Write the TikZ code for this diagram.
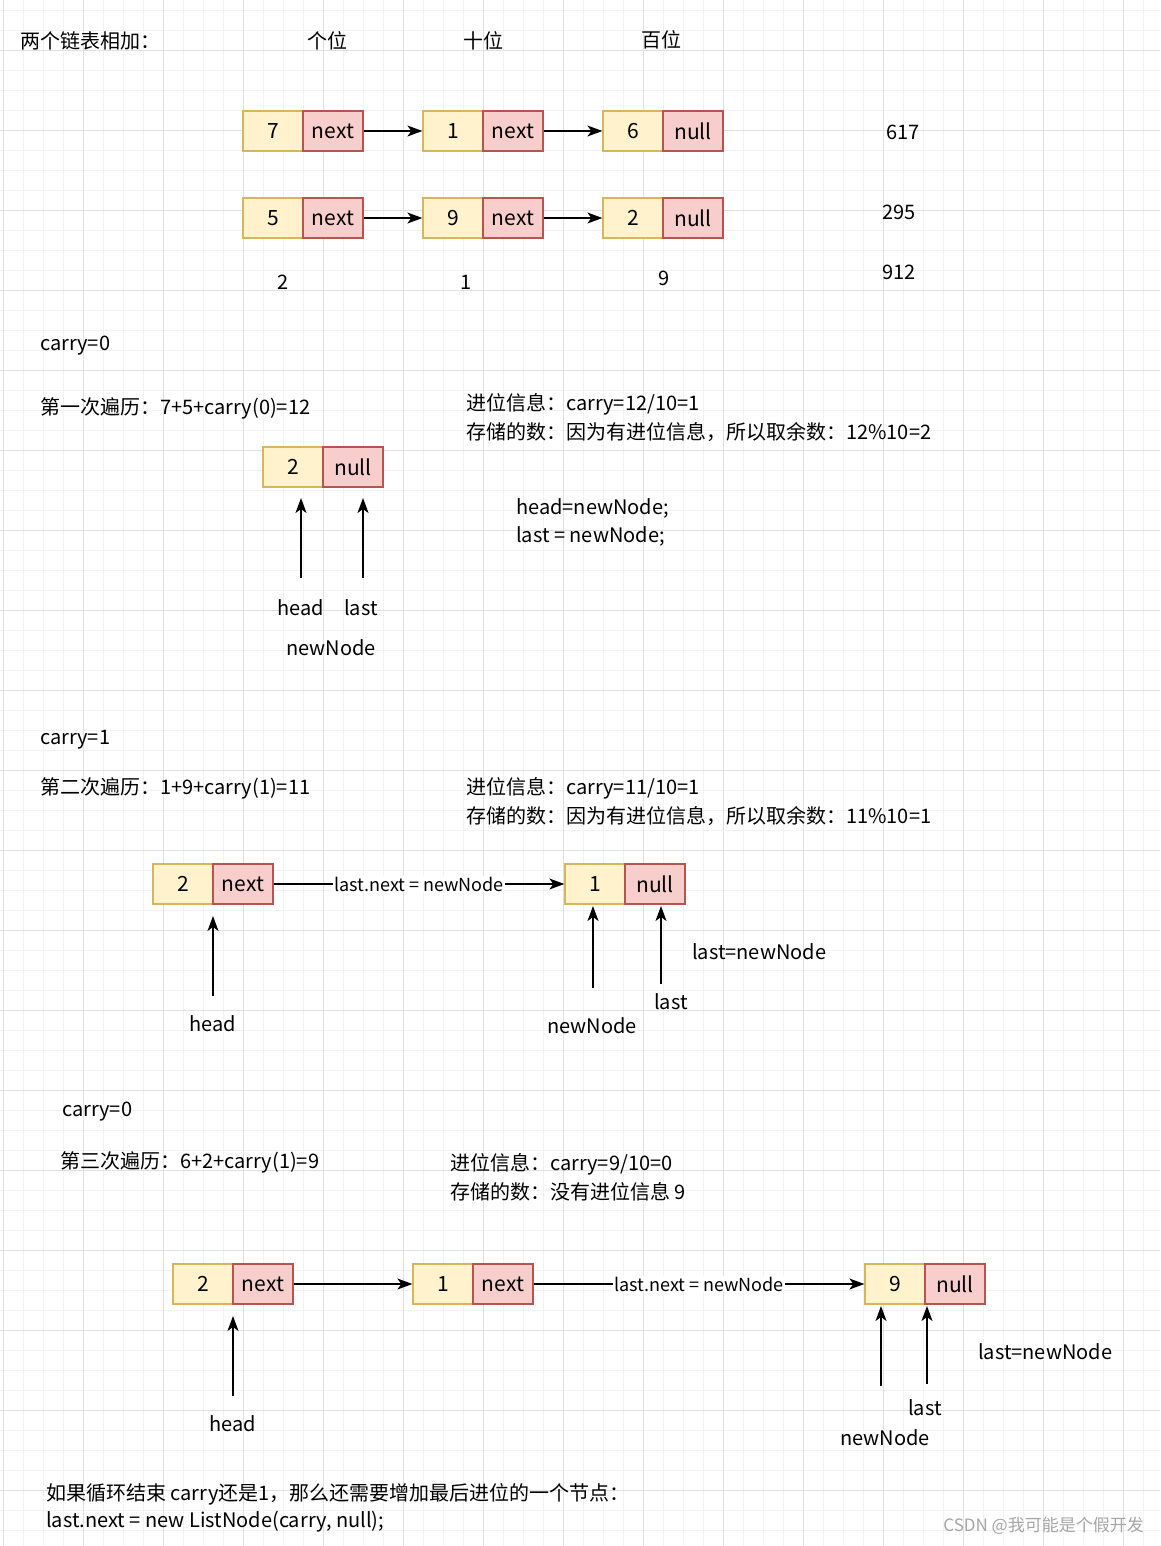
\documentclass[tikz,border=0pt]{standalone}
\usepackage{fontspec}
\setmainfont{Noto Sans CJK SC}
\usetikzlibrary{arrows.meta}
\definecolor{yf}{HTML}{FFF2CC}\definecolor{yd}{HTML}{D6B656}
\definecolor{rf}{HTML}{F8CECC}\definecolor{rd}{HTML}{B85450}
\definecolor{gmin}{HTML}{F2F2F2}\definecolor{gmaj}{HTML}{E0E0E0}
\tikzset{
 yb/.style={draw=yd,fill=yf,line width=1.3pt,minimum width=60pt,minimum height=40pt,inner sep=0pt,font=\fontsize{21}{24}\selectfont},
 rb/.style={draw=rd,fill=rf,line width=1.3pt,minimum width=60pt,minimum height=40pt,inner sep=0pt,font=\fontsize{21}{24}\selectfont},
 tx/.style={inner sep=0pt,font=\fontsize{20}{28}\selectfont,align=left},
 lt/.style={tx,anchor=west},
 ar/.style={-{Stealth[length=15pt,width=11pt,inset=4pt]},line width=1.3pt},
 lab/.style={fill=white,inner sep=1pt,font=\fontsize{18}{20}\selectfont}
}
\begin{document}
\begin{tikzpicture}[x=1pt,y=-1pt]
\useasboundingbox (0,0) rectangle (1160,1546);
\fill[white] (0,0) rectangle (1160,1546);
\foreach \i in {0,...,58}{\draw[gmin,line width=0.8pt] (3+\i*20,0)--(3+\i*20,1546);}
\foreach \j in {0,...,78}{\draw[gmin,line width=0.8pt] (0,10+\j*20)--(1160,10+\j*20);}
\foreach \i in {0,...,14}{\draw[gmaj,line width=0.9pt] (3+\i*80,0)--(3+\i*80,1546);}
\foreach \j in {0,...,19}{\draw[gmaj,line width=0.9pt] (0,50+\j*80)--(1160,50+\j*80);}
% header
\node[lt] (t0) at (20,41) {两个链表相加：};
\node[tx] (t1) at (327,41) {个位};
\node[tx] (t2) at (483,41) {十位};
\node[tx] (t3) at (661,40) {百位};
% row1
\node[yb] (a1) at (273,131) {7}; \node[rb] (a1n) at (333,131) {next};
\node[yb] (a2) at (453,131) {1}; \node[rb] (a2n) at (513,131) {next};
\node[yb] (a3) at (633,131) {6}; \node[rb] (a3n) at (693,131) {null};
\draw[ar] (a1n.east)--(a2.west); \draw[ar] (a2n.east)--(a3.west);
% row2
\node[yb] (b1) at (273,218) {5}; \node[rb] (b1n) at (333,218) {next};
\node[yb] (b2) at (453,218) {9}; \node[rb] (b2n) at (513,218) {next};
\node[yb] (b3) at (633,218) {2}; \node[rb] (b3n) at (693,218) {null};
\draw[ar] (b1n.east)--(b2.west); \draw[ar] (b2n.east)--(b3.west);
\node[tx] (n617) at (903,132) {617};
\node[tx] (n295) at (899,212) {295};
\node[tx] (n912) at (899,272) {912};
\node[tx] (d2) at (283,282) {2};
\node[tx] (d1) at (466,282) {1};
\node[tx] (d9) at (664,278) {9};
% step 1
\node[lt] (c0) at (40,346) {carry=0};
\node[lt] (s1) at (40,408) {第一次遍历：7+5+carry(0)=12};
\node[lt] (i1) at (466,404) {进位信息：carry=12/10=1};
\node[lt] (i2) at (466,432) {存储的数：因为有进位信息，所以取余数：12\%10=2};
\node[yb] (e1) at (293,467) {2}; \node[rb] (e1n) at (353,467) {null};
\coordinate (h1) at (301,578); \coordinate (l1) at (363,578);
\draw[ar] (h1)--(301,498); \draw[ar] (l1)--(363,498);
\node[tx] (hd1) at (301,608) {head};
\node[tx] (ls1) at (361,608) {last};
\node[tx] (nn1) at (331,648) {newNode};
\node[lt] (q1) at (516,508) {head=newNode;};
\node[lt] (q2) at (516,536) {last = newNode;};
% step 2
\node[lt] (c1) at (40,740) {carry=1};
\node[lt] (s2) at (40,788) {第二次遍历：1+9+carry(1)=11};
\node[lt] (j1) at (466,788) {进位信息：carry=11/10=1};
\node[lt] (j2) at (466,816) {存储的数：因为有进位信息，所以取余数：11\%10=1};
\node[yb] (f1) at (183,884) {2}; \node[rb] (f1n) at (243,884) {next};
\node[yb] (f2) at (595,884) {1}; \node[rb] (f2n) at (655,884) {null};
\draw[ar] (f1n.east)--node[lab]{last.next = newNode}(f2.west);
\coordinate (h2) at (213,996); \coordinate (n2) at (593,988); \coordinate (l2) at (661,984);
\draw[ar] (h2)--(213,916); \draw[ar] (n2)--(593,906); \draw[ar] (l2)--(661,906);
\node[tx] (hd2) at (213,1024) {head};
\node[tx] (nn2) at (592,1026) {newNode};
\node[tx] (ls2) at (671,1002) {last};
\node[lt] (ln2) at (692,952) {last=newNode};
% step 3
\node[lt] (c2) at (62,1112) {carry=0};
\node[lt] (s3) at (60,1162) {第三次遍历：6+2+carry(1)=9};
\node[lt] (k1) at (450,1164) {进位信息：carry=9/10=0};
\node[lt] (k2) at (450,1192) {存储的数：没有进位信息 9};
\node[yb] (g1) at (203,1284) {2}; \node[rb] (g1n) at (263,1284) {next};
\node[yb] (g2) at (443,1284) {1}; \node[rb] (g2n) at (503,1284) {next};
\node[yb] (g3) at (895,1284) {9}; \node[rb] (g3n) at (955,1284) {null};
\draw[ar] (g1n.east)--(g2.west);
\draw[ar] (g2n.east)--node[lab]{last.next = newNode}(g3.west);
\coordinate (h3) at (233,1396); \coordinate (n3) at (881,1386); \coordinate (l3) at (927,1384);
\draw[ar] (h3)--(233,1316); \draw[ar] (n3)--(881,1306); \draw[ar] (l3)--(927,1306);
\node[tx] (hd3) at (233,1424) {head};
\node[tx] (ls3) at (925,1408) {last};
\node[tx] (nn3) at (885,1438) {newNode};
\node[lt] (ln3) at (978,1352) {last=newNode};
% bottom
\node[lt] (b1t) at (46,1494) {如果循环结束 carry还是1，那么还需要增加最后进位的一个节点：};
\node[lt] (b2t) at (46,1522) {last.next = new ListNode(carry, null);};
\node[tx,anchor=east,text=black!35,font=\fontsize{17}{20}\selectfont] (wm) at (1144,1526) {CSDN @我可能是个假开发};
\end{tikzpicture}
\end{document}
